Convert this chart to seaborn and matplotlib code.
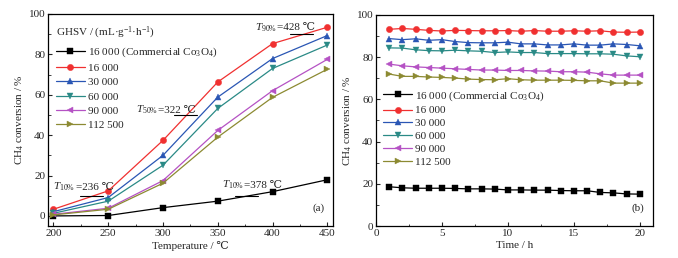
# CH4 conversion vs temperature (a) and time on stream (b)
import numpy as np
import pandas as pd
from matplotlib import pyplot as plt
import seaborn as sns

# data
temps = [200, 250, 300, 350, 400, 450]
hours = list(range(1, 21))

labels = ['16 000 (Commercial Co$_3$O$_4$)', '16 000', '30 000', '60 000', '90 000', '112 500']
colors = ['#000000', '#f03030', '#2a56b4', '#2a8a86', '#b552c4', '#8c8a32']
markers = ['s', 'o', '^', 'v', '<', '>']

conv_temp_commercial = [0.0, 0.2, 4.1, 7.3, 12.0, 17.9]
conv_temp_16000 = [3.3, 12.4, 37.4, 66.3, 85.3, 93.4]
conv_temp_30000 = [2.1, 9.1, 30.0, 58.8, 77.9, 89.3]
conv_temp_60000 = [1.3, 7.3, 25.1, 53.2, 73.0, 84.6]
conv_temp_90000 = [0.8, 3.8, 17.5, 42.3, 62.0, 77.5]
conv_temp_112500 = [0.5, 3.3, 16.2, 39.0, 58.7, 72.6]

conv_time_commercial = [18.6, 18.1, 17.9, 17.9, 17.9, 17.8, 17.6, 17.6, 17.5, 17.1,
                        17.1, 17.0, 17.0, 16.8, 16.7, 16.7, 15.9, 15.7, 15.2, 15.1]
conv_time_16000 = [93.2, 93.6, 93.2, 92.7, 92.4, 92.7, 92.6, 92.5, 92.5, 92.6,
                   92.3, 92.6, 92.3, 92.3, 92.5, 92.3, 92.5, 91.9, 91.8, 91.9]
conv_time_30000 = [88.8, 88.3, 88.7, 88.0, 88.3, 87.4, 86.9, 86.8, 86.8, 87.1,
                   86.3, 86.3, 85.8, 85.8, 86.3, 85.7, 85.7, 86.3, 86.0, 85.4]
conv_time_60000 = [84.4, 84.3, 83.5, 83.1, 83.0, 83.3, 83.0, 82.8, 82.2, 82.5,
                   82.2, 82.2, 81.7, 81.7, 81.7, 81.6, 81.6, 81.4, 80.6, 80.2]
conv_time_90000 = [76.7, 75.9, 75.4, 75.1, 74.8, 74.5, 74.2, 73.9, 73.9, 73.7,
                   73.7, 73.5, 73.4, 73.1, 73.1, 72.9, 72.1, 71.5, 71.5, 71.5]
conv_time_112500 = [72.0, 70.9, 70.9, 70.6, 70.4, 70.1, 69.6, 69.4, 69.3, 69.8,
                    69.3, 69.1, 69.1, 69.1, 69.0, 68.8, 68.8, 67.7, 67.7, 67.7]

# light-off temperatures: (subscript, T, conversion level, text x, text y)
t_marks = [('10', 236, 10, 200, 12.9), ('50', 322, 50, 275, 51),
           ('90', 428, 90, 384, 92), ('10', 378, 10, 354, 13.9)]

temp_series = [conv_temp_commercial, conv_temp_16000, conv_temp_30000,
               conv_temp_60000, conv_temp_90000, conv_temp_112500]
time_series = [conv_time_commercial, conv_time_16000, conv_time_30000,
               conv_time_60000, conv_time_90000, conv_time_112500]

sns.set_style('ticks')
plt.rcParams['font.family'] = ['Liberation Serif', 'DejaVu Serif', 'DejaVu Sans']
plt.rcParams['mathtext.fontset'] = 'custom'
plt.rcParams['mathtext.rm'] = 'Liberation Serif'
plt.rcParams['mathtext.it'] = 'Liberation Serif:italic'
plt.rcParams['mathtext.fallback'] = 'stix'
fs = 8
plt.rcParams['font.size'] = fs

fig = plt.figure(figsize=(6.78, 2.58), dpi=100)
ax1 = fig.add_axes([0.0708, 0.124, 0.420, 0.822])
ax2 = fig.add_axes([0.5546, 0.124, 0.4086, 0.818])

# panel (a)
for lab, col, mk, vals in zip(labels, colors, markers, temp_series):
    sns.lineplot(x=temps, y=vals, ax=ax1, color=col, marker=mk, markersize=4.5,
                 markeredgewidth=0.3, markeredgecolor=col, linewidth=0.9, label=lab)

for sub, t, lvl, tx, ty in t_marks:
    ax1.plot([t - 12, t + 9], [lvl, lvl], color='black', linewidth=0.8)
    # T part in mathtext, the rest as plain text so the degree sign is found
    t1 = ax1.text(tx, ty, r'$T_{' + sub + r'\%}$', fontsize=fs, va='baseline')
    ax1.annotate('=%d ℃' % t, xy=(1, 0), xycoords=t1, xytext=(0, 1.3),
                 textcoords='offset points', fontsize=fs, va='bottom')

ax1.text(0.97, 0.06, '(a)', transform=ax1.transAxes, ha='right', va='bottom', fontsize=fs)

ax1.set_xlim(195, 455)
ax1.set_ylim(-5, 100)
ax1.set_xticks([200, 250, 300, 350, 400, 450])
ax1.set_yticks([0, 20, 40, 60, 80, 100])
ax1.set_xlabel('Temperature / ℃', fontsize=fs, labelpad=2)
ax1.set_ylabel('CH$_4$ conversion / %', fontsize=fs, labelpad=2)
leg1 = ax1.legend(loc='upper left', bbox_to_anchor=(0.0, 0.985), frameon=False,
                  title='GHSV / (mL·g$^{-1}$·h$^{-1}$)', title_fontsize=fs, fontsize=fs,
                  handlelength=2.6, handletextpad=0.3, labelspacing=0.4, borderaxespad=0.3)
leg1._legend_box.align = 'left'

# panel (b)
for lab, col, mk, vals in zip(labels, colors, markers, time_series):
    sns.lineplot(x=hours, y=vals, ax=ax2, color=col, marker=mk, markersize=4.5,
                 markeredgewidth=0.3, markeredgecolor=col, linewidth=0.9, label=lab)

ax2.text(0.97, 0.06, '(b)', transform=ax2.transAxes, ha='right', va='bottom', fontsize=fs)
ax2.set_xlim(0, 21)
ax2.set_ylim(0, 100)
ax2.set_xticks([0, 5, 10, 15, 20])
ax2.set_yticks([0, 20, 40, 60, 80, 100])
ax2.set_xlabel('Time / h', fontsize=fs, labelpad=2)
ax2.set_ylabel('CH$_4$ conversion / %', fontsize=fs, labelpad=2)
ax2.legend(loc='upper left', bbox_to_anchor=(0.01, 0.67), frameon=False, fontsize=fs,
           handlelength=2.6, handletextpad=0.3, labelspacing=0.28, borderaxespad=0.0)

for ax in (ax1, ax2):
    ax.minorticks_on()
    ax.tick_params(which='both', direction='in', top=False, right=False, labelsize=fs, pad=2)
    ax.tick_params(which='major', length=3, width=0.8)
    ax.tick_params(which='minor', length=1.8, width=0.6)
    ax.xaxis.set_minor_locator(plt.MultipleLocator((ax.get_xticks()[1] - ax.get_xticks()[0]) / 2))
    ax.yaxis.set_minor_locator(plt.MultipleLocator(10))
    for sp in ax.spines.values():
        sp.set_linewidth(0.9)
        sp.set_color('black')

plt.savefig('out.png', dpi=100)
